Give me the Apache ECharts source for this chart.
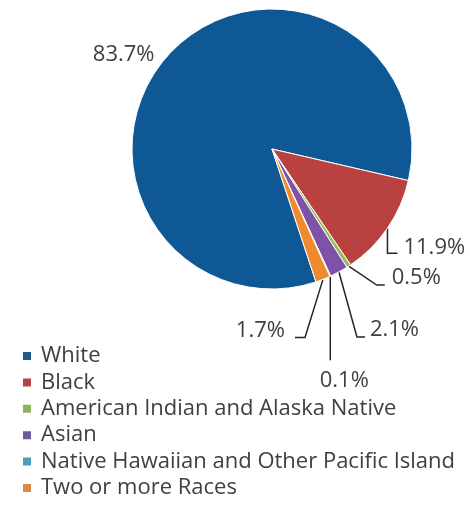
<!DOCTYPE html>
<html>
<head>
<meta charset="utf-8">
<script src="https://cdn.jsdelivr.net/npm/echarts@6/dist/echarts.min.js"></script>
<style>
  html, body { margin: 0; padding: 0; background: #ffffff; }
  #chart { width: 470px; height: 508px; }
</style>
</head>
<body>
<div id="chart"></div>
<script>
// Population share by race (percent)
const categories = [
  'White',
  'Black',
  'American Indian and Alaska Native',
  'Asian',
  'Native Hawaiian and Other Pacific Island',
  'Two or more Races'
];
const shares = [83.7, 11.9, 0.5, 2.1, 0.1, 1.7];
const sliceColors = ['#0e5896', '#b9413f', '#9bbb59', '#7e52a8', '#4bacc6', '#f08a2e'];
const legendColors = ['#1f5b8a', '#b04548', '#8fb25c', '#6f5b9a', '#4a9fb5', '#e0874e'];

// Leader-line shape for each label, relative to the slice's outer edge point:
// bend = elbow of the line, end = line tip, text = label anchor.
const leaders = [
  { bend: [0, 0],    end: [0, 0],    text: [-14, 0],  align: 'right' },
  { bend: [0, 25],   end: [10, 25],  text: [16, 20],  align: 'left' },
  { bend: [28, 19],  end: [36, 19],  text: [43, 12],  align: 'left' },
  { bend: [18, 65],  end: [26, 65],  text: [31, 58],  align: 'left' },
  { bend: [0, 84],   end: [0, 84],   text: [14, 104], align: 'center' },
  { bend: [-18, 58], end: [-28, 58], text: [-38, 51], align: 'right' }
];

const PIE_CENTER = [272, 149];
const PIE_RADIUS = 140;
const FONT = '"Open Sans", "DejaVu Sans", sans-serif';

const chart = echarts.init(document.getElementById('chart'), null, { renderer: 'canvas' });

// Point on the pie rim in the direction of the library's own label anchor
function rimPoint(p) {
  const dx = p[0] - PIE_CENTER[0];
  const dy = p[1] - PIE_CENTER[1];
  const len = Math.sqrt(dx * dx + dy * dy) || 1;
  return [PIE_CENTER[0] + dx / len * PIE_RADIUS, PIE_CENTER[1] + dy / len * PIE_RADIUS];
}

chart.setOption({
  animation: false,
  color: sliceColors,
  legend: {
    orient: 'vertical',
    left: 21,
    top: 345,
    height: 163,
    padding: 0,
    icon: 'rect',
    itemWidth: 10,
    itemHeight: 10,
    itemGap: 4.4,
    data: categories.map((name, i) => ({ name, itemStyle: { color: legendColors[i] } })),
    textStyle: {
      fontFamily: FONT,
      fontSize: 22,
      lineHeight: 22,
      color: '#404040',
      padding: [0, 0, 0, 4]
    }
  },
  series: [{
    type: 'pie',
    center: PIE_CENTER,
    radius: PIE_RADIUS,
    startAngle: -71.7,
    clockwise: true,
    avoidLabelOverlap: false,
    itemStyle: { borderColor: '#ffffff', borderWidth: 1 },
    label: {
      show: true,
      position: 'outside',
      formatter: p => p.value.toFixed(1) + '%',
      fontFamily: FONT,
      fontSize: 22,
      color: '#404040'
    },
    labelLine: {
      show: true,
      length: 10,
      length2: 10,
      lineStyle: { color: '#262626', width: 1.5 }
    },
    labelLayout: function (params) {
      const pts = params.labelLinePoints;
      const lead = leaders[params.dataIndex];
      if (!pts || !lead) return {};
      const p0 = rimPoint(pts[0]);
      const bend = [p0[0] + lead.bend[0], p0[1] + lead.bend[1]];
      const end = [p0[0] + lead.end[0], p0[1] + lead.end[1]];
      return {
        x: p0[0] + lead.text[0],
        y: p0[1] + lead.text[1],
        align: lead.align,
        verticalAlign: 'middle',
        labelLinePoints: params.dataIndex === 0 ? [p0, p0, p0] : [p0, bend, end]
      };
    },
    emphasis: { disabled: true },
    data: categories.map((name, i) => ({ name, value: shares[i] }))
  }]
});
</script>
</body>
</html>
